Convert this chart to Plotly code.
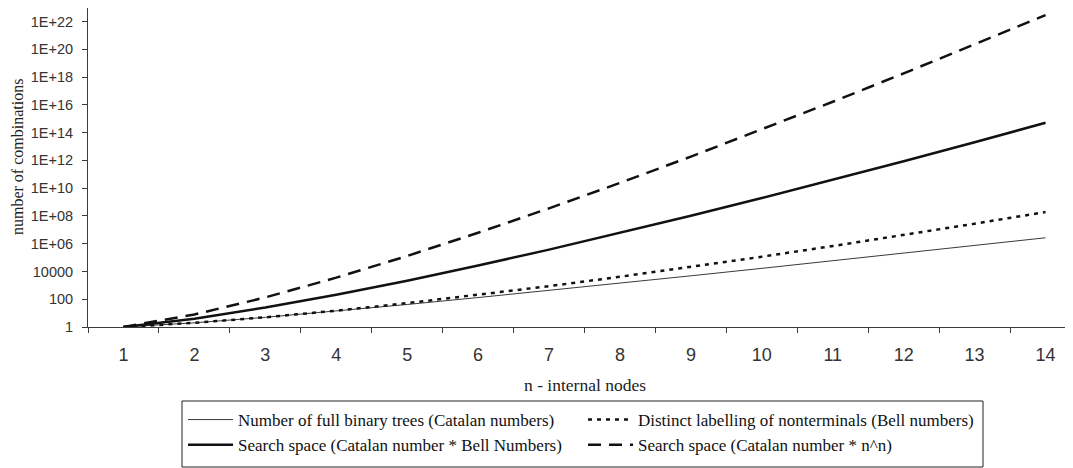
import plotly.graph_objects as go

# ---- data ----
n_labels = ["1", "2", "3", "4", "5", "6", "7", "8", "9", "10", "11", "12", "13", "14"]
catalan = [1, 2, 5, 14, 42, 132, 429, 1430, 4862, 16796, 58786, 208012, 742900, 2674440]
bell = [1, 2, 5, 15, 52, 203, 877, 4140, 21147, 115975, 678570, 4213597, 27644437, 190899322]
catalan_bell = [1, 4, 25, 210, 2184, 26796, 376233, 5920200, 102816714, 1947916100,
                39890416020, 876478739164, 2.05370522473e13, 5.1054878273e14]
catalan_nn = [1, 8, 135, 3584, 131250, 6158592, 353299947, 23991418880, 1.883638417518e12,
              1.6796e14, 1.67723e16, 1.85466e18, 2.25006e20, 2.97184e22]

y_tickvals = [1e0, 1e2, 1e4, 1e6, 1e8, 1e10, 1e12, 1e14, 1e16, 1e18, 1e20, 1e22]
y_ticktext = ["1", "100", "10000", "1E+06", "1E+08", "1E+10", "1E+12", "1E+14",
              "1E+16", "1E+18", "1E+20", "1E+22"]

names = [
    "Number of full binary trees (Catalan numbers)",
    "Distinct labelling of nonterminals (Bell numbers)",
    "Search space (Catalan number * Bell Numbers)",
    "Search space (Catalan number * n^n)",
]

fig = go.Figure()
fig.add_trace(go.Scatter(x=n_labels, y=catalan, mode="lines", name=names[0],
                         line=dict(color="#3a3a3a", width=1)))
fig.add_trace(go.Scatter(x=n_labels, y=bell, mode="lines", name=names[1],
                         line=dict(color="#111111", width=2.5, dash="4px,5px")))
fig.add_trace(go.Scatter(x=n_labels, y=catalan_bell, mode="lines", name=names[2],
                         line=dict(color="#111111", width=2.5)))
fig.add_trace(go.Scatter(x=n_labels, y=catalan_nn, mode="lines", name=names[3],
                         line=dict(color="#111111", width=2.5, dash="13px,8px")))

# plot area (figure px): left 80, top 0, bottom 319, right 1073
PL, PT, PB, PR = 80, 0, 319, 1073
PW, PH = PR - PL, PB - PT


def px_x(v):
    return (v - PL) / PW


def px_y(v):
    return (PB - v) / PH


axis_col = "#3c3c3c"
fig.update_layout(
    width=1073, height=468,
    margin=dict(l=PL, r=1073 - PR, t=PT, b=468 - PB, autoexpand=False),
    paper_bgcolor="white", plot_bgcolor="white",
    showlegend=True,
    legend=dict(
        orientation="h", x=px_x(175), xanchor="left", y=px_y(394), yanchor="top",
        borderwidth=0, bgcolor="rgba(0,0,0,0)",
        font=dict(family="Liberation Serif", size=17, color="#111111"),
        entrywidth=340, itemwidth=45,
    ),
    shapes=[
        dict(type="rect", xref="paper", yref="paper",
             x0=px_x(174), x1=px_x(975), y0=px_y(459), y1=px_y(393),
             line=dict(color="#222222", width=1), fillcolor="rgba(0,0,0,0)", layer="below"),
    ],
    xaxis=dict(
        type="category", categoryorder="array", categoryarray=n_labels,
        range=[-0.5, 13.5], tickson="boundaries",
        ticks="outside", ticklen=5, tickcolor=axis_col, tickwidth=1,
        showline=True, linecolor=axis_col, linewidth=1, mirror=True,
        showgrid=False, zeroline=False, ticklabelstandoff=11,
        tickfont=dict(family="Liberation Sans", size=18, color="#333333"),
    ),
    yaxis=dict(
        type="log", range=[0, 22.98],
        tickmode="array", tickvals=y_tickvals, ticktext=y_ticktext,
        ticks="outside", ticklen=5, tickcolor=axis_col, tickwidth=1,
        showline=True, linecolor=axis_col, linewidth=1,
        showgrid=False, zeroline=False, ticklabelstandoff=6,
        tickfont=dict(family="Liberation Sans", size=14.5, color="#333333"),
    ),
    annotations=[
        dict(text="n - internal nodes", xref="x", yref="paper", x=6.5, y=px_y(377),
             xanchor="center", yanchor="middle", showarrow=False,
             font=dict(family="Liberation Serif", size=17.5, color="#222222")),
        dict(text="number of combinations", xref="paper", yref="paper",
             x=px_x(9), y=px_y(149), textangle=-90,
             xanchor="center", yanchor="middle", showarrow=False,
             font=dict(family="Liberation Serif", size=16, color="#222222")),
    ],
)

fig.write_html("out.html")
